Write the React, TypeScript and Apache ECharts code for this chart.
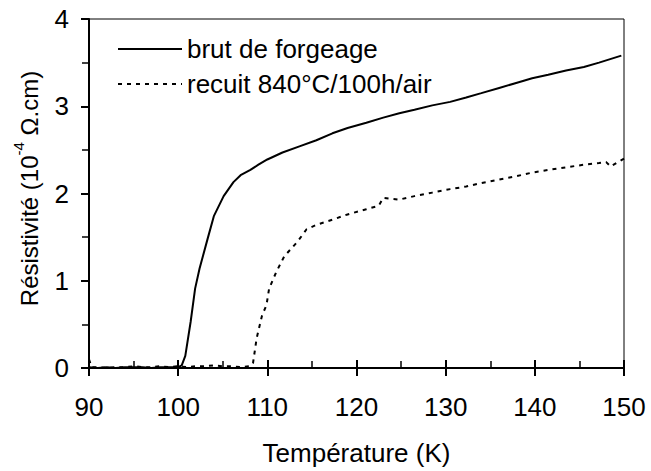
import React, { useEffect, useRef } from "react";
import * as echarts from "echarts";

const brutT = [90, 91, 92, 93, 94, 95, 96, 97, 98, 99, 100, 100.4, 100.8, 101.4, 101.9, 102.4, 103.3, 104.0, 105.1, 106.2, 107, 108.1, 109, 110, 111.7, 113.6, 115.5, 117.3, 119, 121.1, 123, 124.8, 126.5, 128.5, 130.5, 132.3, 134, 136, 138, 139.7, 141.5, 143.5, 145.5, 147.2, 149.7];
const brutR = [0.01, 0, 0.01, 0, 0.01, 0.01, 0.01, 0, 0.01, 0.01, 0.01, 0.03, 0.14, 0.53, 0.91, 1.14, 1.48, 1.74, 1.97, 2.13, 2.21, 2.27, 2.33, 2.39, 2.47, 2.54, 2.61, 2.69, 2.75, 2.81, 2.87, 2.92, 2.96, 3.01, 3.05, 3.10, 3.15, 3.21, 3.27, 3.32, 3.36, 3.41, 3.45, 3.50, 3.58];

const recuitT = [90, 90.3, 91, 92, 93, 94, 95, 96, 97, 98, 99, 100, 101, 102, 103, 104, 105, 106, 107, 108, 108.4, 108.8, 109.4, 109.9, 110.2, 111, 111.9, 113.4, 114.4, 115.5, 117.3, 119, 121.1, 122.5, 123, 124.8, 126.5, 128.5, 130.5, 132.3, 134, 136, 138, 139.7, 141.5, 143.5, 145.5, 147.2, 148, 148.5, 150];
const recuitR = [0.1, 0.01, 0.01, 0, 0.01, 0.01, 0.02, 0.01, 0.01, 0.02, 0.01, 0.02, 0.01, 0.02, 0.02, 0.03, 0.02, 0.02, 0.01, 0.02, 0.06, 0.34, 0.6, 0.72, 0.91, 1.1, 1.28, 1.45, 1.59, 1.64, 1.70, 1.76, 1.82, 1.86, 1.95, 1.93, 1.97, 2.01, 2.05, 2.08, 2.12, 2.16, 2.20, 2.24, 2.27, 2.30, 2.33, 2.35, 2.36, 2.31, 2.40];

const seriesNames = ["brut de forgeage", "recuit 840°C/100h/air"];
const xTitle = "Température (K)";

const FONT = "'Liberation Sans', Arial, sans-serif";

export default function App() {
  const ref = useRef<HTMLDivElement>(null);
  useEffect(() => {
    if (!ref.current) return;
    const chart = echarts.init(ref.current, null, { renderer: "svg" });
    const pair = (xs: number[], ys: number[]) => xs.map((x, i) => [x, ys[i]]);
    chart.setOption({
      animation: false,
      backgroundColor: "#fff",
      color: ["#000", "#000"],
      textStyle: { fontFamily: FONT, color: "#000" },
      grid: { left: 89, right: 27, top: 19, bottom: 101, show: true, borderColor: "#000", borderWidth: 1 },
      legend: {
        orient: "vertical",
        left: 112,
        top: 31,
        itemWidth: 64,
        itemHeight: 26,
        itemGap: 9,
        itemStyle: { opacity: 0 },
        textStyle: { fontSize: 26, fontFamily: FONT, color: "#000" },
        data: seriesNames,
      },
      xAxis: [
        {
          type: "value",
          min: 90,
          max: 150,
          interval: 10,
          name: xTitle,
          nameLocation: "middle",
          nameGap: 72,
          nameTextStyle: { fontSize: 26, fontFamily: FONT, color: "#000" },
          axisLine: { lineStyle: { color: "#000", width: 2 } },
          axisTick: { inside: false, length: 8, lineStyle: { color: "#000", width: 2 } },
          axisLabel: { fontSize: 26, fontFamily: FONT, color: "#000", margin: 26 },
          splitLine: { show: false },
        },
        {
          type: "value",
          min: 90,
          max: 150,
          interval: 10,
          position: "bottom",
          axisLine: { show: false },
          axisTick: { inside: true, length: 8, lineStyle: { color: "#000", width: 2 } },
          minorTick: { show: true, splitNumber: 2, length: 7, lineStyle: { color: "#000", width: 1.5 } },
          axisLabel: { show: false },
          splitLine: { show: false },
        },
      ],
      yAxis: {
        type: "value",
        min: 0,
        max: 4,
        interval: 1,
        name: "{a|Résistivité (10}{s|-4}{a| Ω.cm)}",
        nameLocation: "middle",
        nameRotate: 90,
        nameGap: 42,
        nameTextStyle: {
          padding: [0, 0, 0, 10],
          rich: {
            a: { fontSize: 24, fontFamily: FONT, color: "#000", lineHeight: 36 },
            s: { fontSize: 15, fontFamily: FONT, color: "#000", verticalAlign: "top", lineHeight: 15 },
          },
        },
        axisLine: { lineStyle: { color: "#000", width: 2 } },
        axisTick: { inside: false, length: 8, lineStyle: { color: "#000", width: 2 } },
        minorTick: { show: true, splitNumber: 2, length: 7, lineStyle: { color: "#000", width: 1.5 } },
        axisLabel: { fontSize: 26, fontFamily: FONT, color: "#000", margin: 20 },
        splitLine: { show: false },
      },
      series: [
        {
          name: seriesNames[0],
          type: "line",
          xAxisIndex: 0,
          data: pair(brutT, brutR),
          showSymbol: false,
          symbol: "none",
          itemStyle: { color: "#000" },
          lineStyle: { color: "#000", width: 2 },
          z: 3,
        },
        {
          name: seriesNames[1],
          type: "line",
          xAxisIndex: 0,
          data: pair(recuitT, recuitR),
          showSymbol: false,
          symbol: "none",
          itemStyle: { color: "#000" },
          lineStyle: { color: "#000", width: 2, type: [4, 5] },
          z: 3,
        },
      ],
    });
    return () => chart.dispose();
  }, []);
  return <div ref={ref} style={{ width: 651, height: 471, position: "absolute", left: 0, top: 0 }} />;
}
